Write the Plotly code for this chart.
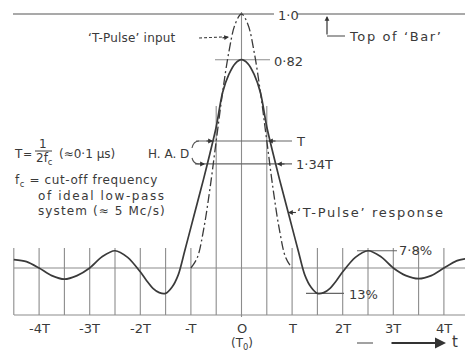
import plotly.graph_objects as go

# ---------------- data ----------------
# 'T-Pulse' response (time in units of T, amplitude relative to bar top = 1.0)
t_resp = [-4.5, -4.25, -4.0, -3.75, -3.5, -3.25, -3.0, -2.75, -2.5, -2.25, -2.0,
          -1.875, -1.75, -1.625, -1.5, -1.375, -1.25, -1.125, -1.0, -0.875, -0.75,
          -0.625, -0.5, -0.375, -0.25, -0.125, 0.0, 0.125, 0.25, 0.375, 0.5, 0.625,
          0.75, 0.875, 1.0, 1.125, 1.25, 1.375, 1.5, 1.625, 1.75, 1.875, 2.0, 2.25,
          2.5, 2.75, 3.0, 3.25, 3.5, 3.75, 4.0, 4.25, 4.42]
v_resp = [0.033, 0.025, 0.0, -0.03, -0.044, -0.03, 0.0, 0.045, 0.068, 0.042, -0.015,
          -0.05, -0.08, -0.097, -0.10, -0.076, -0.027, 0.065, 0.16, 0.255, 0.35,
          0.45, 0.555, 0.69, 0.762, 0.805, 0.82, 0.805, 0.762, 0.69, 0.555, 0.45,
          0.35, 0.255, 0.16, 0.065, -0.027, -0.076, -0.10, -0.097, -0.08, -0.05, -0.015, 0.042,
          0.068, 0.045, 0.0, -0.03, -0.042, -0.03, 0.0, 0.028, 0.036]

# 'T-Pulse' input
t_in = [-1.0, -0.875, -0.75, -0.625, -0.5, -0.375, -0.25, -0.125, 0.0,
        0.125, 0.25, 0.375, 0.5, 0.625, 0.75, 0.875, 1.0]
v_in = [0.0, 0.04, 0.15, 0.31, 0.5, 0.69, 0.85, 0.96, 1.0,
        0.96, 0.85, 0.69, 0.5, 0.31, 0.15, 0.04, 0.0]

tick_vals = [-4, -3, -2, -1, 0, 1, 2, 3, 4]
tick_text = ['-4T', '-3T', '-2T', '-T', 'O', 'T', '2T', '3T', '4T']
grid_t = [k * 0.5 for k in range(-9, 9)]

bar_top = 1.0
resp_peak = 0.82
half_in = 0.5
half_resp = 0.41
undershoot = -0.10
overshoot = 0.068

# ---------------- geometry helpers ----------------
W, H = 465, 351
X0, SX = 241.5, 50.6
Y0, SY = 268.0, 254.0


def tx(px):
    return (px - X0) / SX


def vy(py):
    return (Y0 - py) / SY


INK = '#3a3a3a'
GRID = '#8c8c8c'
FONT = 'DejaVu Sans'

fig = go.Figure()
fig.add_trace(go.Scatter(x=t_in, y=v_in, mode='lines',
                         line=dict(color=INK, width=1.3, dash='9px,3px,2px,3px', shape='spline', smoothing=1.0),
                         hoverinfo='skip'))
fig.add_trace(go.Scatter(x=t_resp, y=v_resp, mode='lines',
                         line=dict(color=INK, width=1.7, shape='spline', smoothing=0.8),
                         hoverinfo='skip'))

shapes = []


def seg(x0, y0, x1, y1, color=GRID, width=1.1, dash=None):
    d = dict(type='line', xref='x', yref='y', x0=x0, y0=y0, x1=x1, y1=y1,
             line=dict(color=color, width=width), layer='below')
    if dash:
        d['line']['dash'] = dash
    shapes.append(d)


# baseline and bottom line
seg(tx(14), 0.0, tx(W), 0.0, width=1.2)
seg(tx(14), vy(315), tx(W), vy(315), width=1.2)

# half-T grid lines
for g in grid_t:
    if g < tx(0) or g > tx(W):
        continue
    if g == 0:
        seg(g, vy(12), g, vy(317))
    elif abs(g) == 0.5:
        seg(g, vy(106), g, vy(315))
    else:
        seg(g, vy(248), g, vy(315))

# 1.0 bar top line
seg(tx(13), bar_top, tx(274), bar_top, width=1.3)
seg(tx(297), bar_top, tx(W), bar_top, width=1.3)
# 0.82 line
seg(tx(215), resp_peak, tx(270), resp_peak)
# H.A.D lines
seg(tx(196), half_in, tx(292), half_in, color='#666666')
seg(tx(195), half_resp, tx(292), half_resp, color='#666666')
# H.A.D bracket
for (sy, ey) in [(148, 141), (158, 164)]:
    p0 = (tx(192), vy(sy))
    c = (tx(193.5), vy(ey))
    p1 = (tx(199), vy(ey))
    shapes.append(dict(type='path', xref='x', yref='y',
                       path=f'M {p0[0]},{p0[1]} Q {c[0]},{c[1]} {p1[0]},{p1[1]}',
                       line=dict(color='#555555', width=1.1)))
# 13% and 7.8% lines
seg(tx(306), undershoot, tx(344), undershoot, color='#666666')
seg(tx(357), overshoot, tx(397), overshoot, color='#666666')
# Top of 'Bar' leader
seg(tx(327), vy(36), tx(345), vy(36), color='#555555')
# input leader (dashed)
seg(tx(199), vy(38), tx(222), vy(37), color='#444444', dash='3px,2px')
# response leader dash
seg(tx(291), vy(212.5), tx(296), vy(212.5), color='#444444')
# t arrow
seg(tx(357), vy(343), tx(373), vy(343), color='#555555')
# fraction bar
seg(tx(35), vy(151), tx(52), vy(151), color=INK, width=1)

ann = []


def arrow(px_tip, py_tip, ax, ay, size=0.8, width=1.2):
    ann.append(dict(x=tx(px_tip), y=vy(py_tip), xref='x', yref='y', text='',
                    showarrow=True, arrowhead=2, arrowsize=size, arrowwidth=width,
                    arrowcolor='#333333', ax=ax, ay=ay, standoff=0))


arrow(213, 141, -8, 0)
arrow(205, 164, -7, 0)
arrow(268, 141, 9, 0)
arrow(277, 164, 9, 0)
arrow(327, 16, 0, 20)
arrow(229, 37, -8, 1)
arrow(288, 212.5, 8, 0)
arrow(446, 343, -56, 0, size=1.0, width=2.2)


def text(s, px, py, size=12, anchor='left', color=INK, ls=None):
    if ls is not None:
        s = f'<span style="letter-spacing:{ls}px">{s}</span>'
    ann.append(dict(x=tx(px), y=vy(py), xref='x', yref='y', text=s, showarrow=False,
                    xanchor=anchor, yanchor='middle',
                    font=dict(family=FONT, size=size, color=color)))


# tick labels
for v, s in zip(tick_vals, tick_text):
    ann.append(dict(x=v, y=vy(328), xref='x', yref='y', text=s, showarrow=False,
                    xanchor='center', yanchor='middle',
                    font=dict(family=FONT, size=13, color=INK)))
text('(T<sub>0</sub>)', 242, 344, size=12, anchor='center')
text('t', 455, 342, size=15, anchor='center')

text('1·0', 276, 15, size=13)
text('0·82', 272, 61, size=13)
text('T', 294, 141, size=13)
text('1·34T', 294, 164, size=13)
text('13%', 347, 294, size=13)
text('7·8%', 397, 250, size=13)
text('Top of ‘Bar’', 347, 36, size=13, ls=1.6)
text('‘T-Pulse’ input', 86, 38, size=12, ls=0.2)
text('‘T-Pulse’ response', 295, 212, size=13, ls=1.7)
text('H. A. D', 146, 154, size=12)

# T = 1 / 2fc block
text('T', 18.5, 154, size=12, anchor='center')
text('=', 27.5, 154, size=11, anchor='center')
text('1', 43, 144, size=12, anchor='center')
text('2f<sub>c</sub>', 44, 159, size=12, anchor='center')
text('(≈0·1 µs)', 57, 154, size=12)
text('f<sub>c</sub> = cut-off frequency', 13, 181, size=12, ls=0.6)
text('of ideal low-pass', 36, 196, size=12, ls=1.6)
text('system (≈ 5 Mc/s)', 36, 211, size=12, ls=1.1)

fig.update_layout(
    width=W, height=H, margin=dict(l=0, r=0, t=0, b=0),
    paper_bgcolor='white', plot_bgcolor='white', showlegend=False,
    xaxis=dict(range=[tx(0), tx(W)], visible=False, fixedrange=True),
    yaxis=dict(range=[vy(H), vy(0)], visible=False, fixedrange=True),
    shapes=shapes, annotations=ann,
)

fig.write_html('out.html')
